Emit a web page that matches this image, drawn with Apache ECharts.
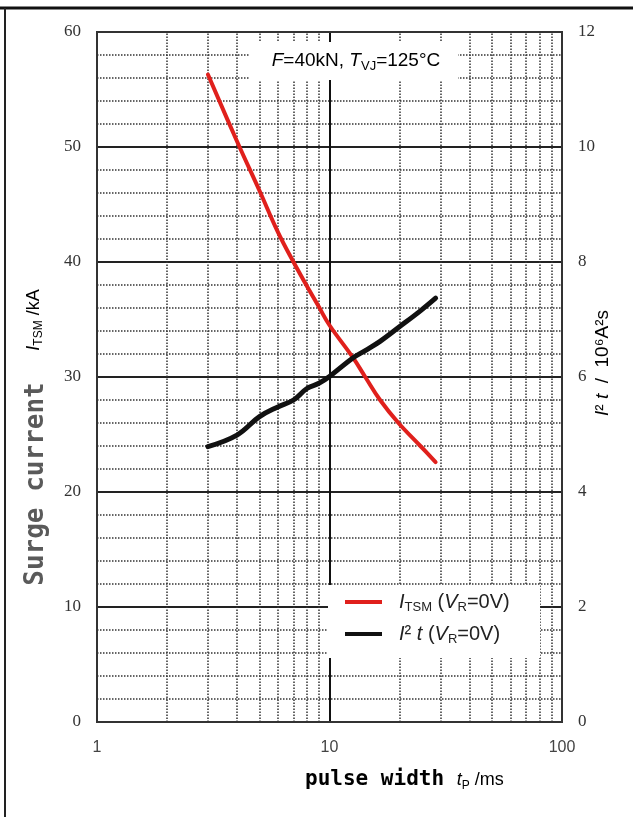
<!DOCTYPE html>
<html>
<head>
<meta charset="utf-8">
<script src="https://cdn.jsdelivr.net/npm/echarts@6/dist/echarts.min.js"></script>
<style>html,body{margin:0;padding:0;background:#fff;}#c{width:633px;height:817px;}</style>
</head>
<body>
<div id="c"></div>
<script>
// Data
var pulseWidthMs   = [3, 4, 5, 6, 7, 8, 9, 10, 12.6, 14.25, 16.5, 19.8, 24.6, 28.6];
var surgeCurrentKA = [56.3, 50.5, 46.2, 42.6, 40.0, 37.9, 36.1, 34.5, 31.7, 30.0, 28.0, 26.0, 24.0, 22.6];
var i2tValues      = [4.79, 4.99, 5.31, 5.48, 5.60, 5.80, 5.89, 6.01, 6.33, 6.46, 6.62, 6.86, 7.15, 7.37];
var minorXTicks    = [2, 3, 4, 5, 6, 7, 8, 9, 20, 30, 40, 50, 60, 70, 80, 90];
var seriesNames    = ['ITSM', 'I2t'];

var chart = echarts.init(document.getElementById('c'));
function pairs(xs, ys){ return xs.map(function(x,i){ return [x, ys[i]]; }); }

var sans = '"Liberation Sans", Arial, sans-serif';
var serif = '"Liberation Serif", "Times New Roman", serif';
var mono = '"DejaVu Sans Mono", "Liberation Mono", monospace';

function richSet(size, sub, color){
  return {
    n: {fontFamily: sans, fontSize: size, color: color, lineHeight: size + 4},
    i: {fontFamily: sans, fontSize: size, color: color, fontStyle: 'italic', lineHeight: size + 4},
    s: {fontFamily: sans, fontSize: sub, color: color, lineHeight: sub, verticalAlign: 'bottom'}
  };
}

var option = {
  backgroundColor: '#fff',
  animation: false,
  grid: {left: 97, top: 32, width: 465, height: 690, show: true, borderColor: '#333', borderWidth: 2, backgroundColor: 'transparent', z: 3},
  xAxis: {
    type: 'log', logBase: 10, min: 1, max: 100,
    axisLine: {show: false}, axisTick: {show: false},
    axisLabel: {margin: 18, color: '#444', fontFamily: sans, fontSize: 16},
    splitLine: {show: true, lineStyle: {color: '#111', width: 2}}
  },
  yAxis: [{
    type: 'value', min: 0, max: 60, interval: 10,
    axisLine: {show: false}, axisTick: {show: false},
    axisLabel: {margin: 16, color: '#333', fontFamily: serif, fontSize: 17},
    splitLine: {show: true, lineStyle: {color: '#222', width: 2}},
    minorTick: {show: false, splitNumber: 5},
    minorSplitLine: {show: true, lineStyle: {color: '#333', width: 1.5, type: [1.5, 1.5]}}
  }, {
    type: 'value', min: 0, max: 12, interval: 2, position: 'right',
    axisLine: {show: false}, axisTick: {show: false},
    axisLabel: {margin: 16, color: '#333', fontFamily: serif, fontSize: 17},
    splitLine: {show: false}
  }],
  legend: {
    data: seriesNames,
    orient: 'vertical',
    left: 330, top: 590,
    padding: [2, 0, 0, 15],
    itemGap: 10,
    icon: 'rect', itemWidth: 37, itemHeight: 4,
    textStyle: {rich: richSet(20, 13, '#222'), padding: [0, 0, 0, 12]},
    formatter: function(name){
      if (name === 'ITSM') return '{i|I}{s|TSM}{n| (}{i|V}{s|R}{n|=0V)}';
      return '{i|I}{n|² }{i|t}{n| (}{i|V}{s|R}{n|=0V)}';
    },
    z: 20
  },
  series: [{
    name: 'grid', type: 'line', data: [], z: 1, silent: true,
    markLine: {
      silent: true, symbol: ['none', 'none'], label: {show: false},
      lineStyle: {color: '#333', width: 1.5, type: [1.5, 1.5]},
      data: minorXTicks.map(function(v){ return {xAxis: v}; })
    }
  }, {
    name: 'ITSM', type: 'line', smooth: 0.4, showSymbol: false, z: 5,
    yAxisIndex: 0,
    lineStyle: {color: '#e0201c', width: 4, cap: 'round', join: 'round'},
    itemStyle: {color: '#e0201c'},
    data: pairs(pulseWidthMs, surgeCurrentKA)
  }, {
    name: 'I2t', type: 'line', smooth: 0.4, showSymbol: false, z: 5,
    yAxisIndex: 1,
    lineStyle: {color: '#111', width: 5, cap: 'round', join: 'round'},
    itemStyle: {color: '#111'},
    data: pairs(pulseWidthMs, i2tValues)
  }],
  graphic: [
    {type: 'line', z: 50, shape: {x1: 0, y1: 8, x2: 633, y2: 8}, style: {stroke: '#111', lineWidth: 3}},
    {type: 'line', z: 50, shape: {x1: 5, y1: 8, x2: 5, y2: 817}, style: {stroke: '#222', lineWidth: 2}},
    {type: 'rect', z: 40, shape: {x: 250, y: 42, width: 208, height: 38}, style: {fill: '#fff'}},
    {type: 'rect', z: 15, shape: {x: 328, y: 585, width: 212, height: 73}, style: {fill: '#fff'}},
    {type: 'text', z: 41, x: 356, y: 61, style: {
      text: '{i|F}{n|=40kN, }{i|T}{s|VJ}{n|=125°C}',
      align: 'center', verticalAlign: 'middle',
      rich: richSet(19, 13, '#222')
    }},
    {type: 'text', z: 41, x: 305, y: 780, style: {
      text: '{m|pulse width }{i|t}{s|P}{n| /ms}',
      verticalAlign: 'middle',
      rich: {
        m: {fontFamily: mono, fontSize: 21, color: '#5a5a5a', fontWeight: 'bold', lineHeight: 24},
        i: {fontFamily: sans, fontSize: 18, color: '#555', fontStyle: 'italic', lineHeight: 24},
        s: {fontFamily: sans, fontSize: 12, color: '#555', lineHeight: 12, verticalAlign: 'bottom'},
        n: {fontFamily: sans, fontSize: 18, color: '#555', lineHeight: 24}
      }
    }},
    {type: 'text', z: 41, x: 36, y: 484, rotation: Math.PI / 2, style: {
      text: 'Surge current', align: 'center', verticalAlign: 'middle',
      fontFamily: mono, fontSize: 26, fill: '#5a5a5a', fontWeight: 'bold'
    }},
    {type: 'text', z: 41, x: 34, y: 320, rotation: Math.PI / 2, style: {
      text: '{i|I}{s|TSM}{n| /kA}', align: 'center', verticalAlign: 'middle',
      rich: {
        i: {fontFamily: sans, fontSize: 18, color: '#444', fontStyle: 'italic', lineHeight: 22},
        s: {fontFamily: sans, fontSize: 12, color: '#444', lineHeight: 12, verticalAlign: 'bottom'},
        n: {fontFamily: sans, fontSize: 18, color: '#444', lineHeight: 22}
      }
    }},
    {type: 'text', z: 41, x: 603, y: 363, rotation: Math.PI / 2, style: {
      text: '{i|I}{n|² }{i|t}{n|  /  10⁶A²s}', align: 'center', verticalAlign: 'middle',
      rich: {
        i: {fontFamily: sans, fontSize: 19, color: '#333', fontStyle: 'italic', lineHeight: 22},
        n: {fontFamily: sans, fontSize: 19, color: '#333', lineHeight: 22}
      }
    }}
  ]
};
chart.setOption(option);
</script>
</body>
</html>
